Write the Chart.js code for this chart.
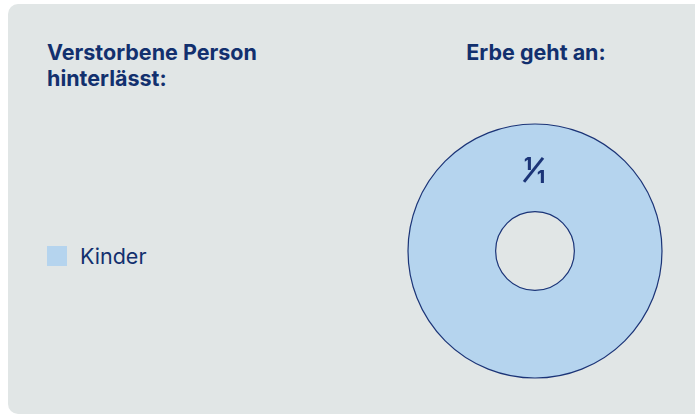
<!DOCTYPE html>
<html>
<head>
<meta charset="utf-8">
<script src="https://cdn.jsdelivr.net/npm/chart.js@4"></script>
<style>
  html, body { margin: 0; padding: 0; background: #ffffff; }
  body { width: 695px; height: 416px; position: relative; overflow: hidden; font-family: Inter, "Noto Sans", sans-serif; color: #12306e; }
  .card { position: absolute; left: 8px; top: 4px; width: 700px; height: 410px; background: #e1e6e6; border-radius: 10px; }
  .title { position: absolute; font-weight: 700; font-size: 21.5px; line-height: 26px; }
  #t1 { left: 47px; top: 39px; }
  #t2 { left: 436px; width: 200px; top: 39px; text-align: center; }
  #legend { position: absolute; left: 47px; top: 246px; font-size: 21.5px; }
  #legend .item { display: flex; align-items: center; height: 20px; }
  #legend .box { width: 20px; height: 20px; margin-right: 13px; }
  canvas { position: absolute; left: 0; top: 0; }
</style>
</head>
<body>
<div class="card"></div>
<div class="title" id="t1">Verstorbene Person<br>hinterlässt:</div>
<div class="title" id="t2">Erbe geht an:</div>
<div id="legend"></div>
<canvas id="chartErbe" width="695" height="416"></canvas>
<script>
  // Daten
  const kategorien = ["Kinder"];
  const anteile = [1];
  const zaehler = ["1"];
  const nenner = ["1"];
  const farben = ["#b5d4ee"];
  const randFarbe = "#1b3477";

  // Legende (HTML)
  const legend = document.getElementById("legend");
  kategorien.forEach((k, i) => {
    const item = document.createElement("div");
    item.className = "item";
    item.innerHTML = '<span class="box" style="background:' + farben[i] + '"></span><span>' + k + '</span>';
    legend.appendChild(item);
  });

  // Rand + Bruch-Beschriftung zeichnen
  const randPlugin = {
    id: "randPlugin",
    afterDatasetsDraw(chart) {
      const ctx = chart.ctx;
      const meta = chart.getDatasetMeta(0);
      meta.data.forEach((arc, i) => {
        const p = arc.getProps(["x", "y", "innerRadius", "outerRadius", "startAngle", "endAngle"], true);
        ctx.save();
        ctx.strokeStyle = randFarbe;
        ctx.lineWidth = 1.2;
        ctx.beginPath();
        ctx.arc(p.x, p.y, p.outerRadius, 0, Math.PI * 2);
        ctx.stroke();
        ctx.beginPath();
        ctx.arc(p.x, p.y, p.innerRadius, 0, Math.PI * 2);
        ctx.stroke();

        const r = (p.innerRadius + p.outerRadius) / 2;
        const a = p.startAngle;
        const cx = p.x + r * Math.cos(a);
        const cy = p.y + r * Math.sin(a) + 5;
        ctx.fillStyle = randFarbe;
        ctx.textAlign = "center";
        ctx.textBaseline = "alphabetic";
        ctx.font = "800 18px Inter, 'DejaVu Sans', sans-serif";
        ctx.fillText(zaehler[i], cx - 7, cy - 3);
        ctx.fillText(nenner[i], cx + 6, cy + 10);
        ctx.lineWidth = 3;
        ctx.lineCap = "butt";
        ctx.beginPath();
        ctx.moveTo(cx - 11, cy + 9);
        ctx.lineTo(cx + 8, cy - 15);
        ctx.stroke();
        ctx.restore();
      });
    }
  };

  new Chart(document.getElementById("chartErbe"), {
    type: "doughnut",
    data: {
      labels: kategorien,
      datasets: [{
        data: anteile,
        backgroundColor: farben,
        borderWidth: 0,
      }],
    },
    options: {
      responsive: false,
      animation: false,
      cutout: "31%",
      layout: { padding: { left: 408, right: 33, top: 124, bottom: 38 } },
      plugins: { legend: { display: false }, tooltip: { enabled: false } },
    },
    plugins: [randPlugin],
  });
</script>
</body>
</html>
